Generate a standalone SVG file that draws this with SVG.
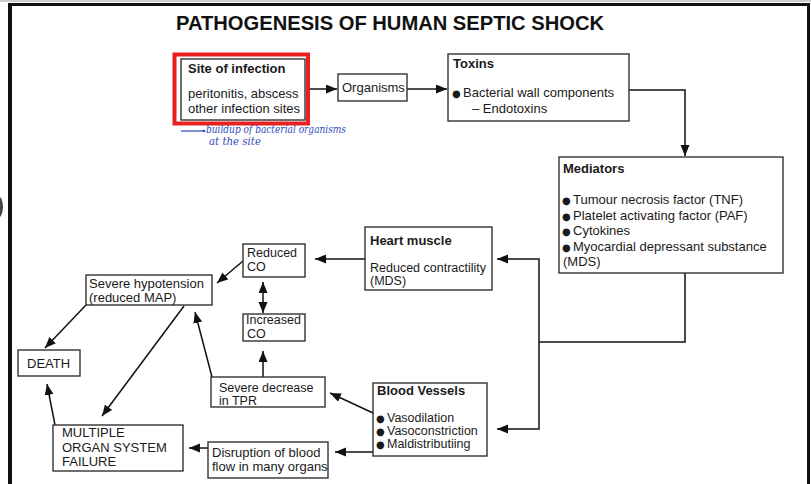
<svg xmlns="http://www.w3.org/2000/svg" width="811" height="484" viewBox="0 0 811 484">
<style>
  text { font-family: "Liberation Sans", Arial, sans-serif; font-size: 13px; fill: #1a1a1a; }
  .b { font-weight: bold; }
  .t { font-weight: bold; font-size: 20px; fill: #111; }
  .s { font-size: 12.5px; }
  .dot { font-family: "DejaVu Sans", sans-serif; font-size: 10px; }
  .box { fill: #fff; stroke: #333; stroke-width: 1.4; }
  .con { fill: none; stroke: #111; stroke-width: 1.5; }
  .hand { font-family: "DejaVu Serif", serif; font-style: italic; font-size: 10.5px; fill: #2f49bb; }
</style>
<defs>
  <marker id="ah" markerUnits="userSpaceOnUse" markerWidth="12" markerHeight="10" refX="11" refY="4.5" orient="auto-start-reverse">
    <path d="M0,0 L11,4.5 L0,9 z" fill="#111"/>
  </marker>
</defs>
<rect width="811" height="484" fill="#fff"/>
<g id="frame">
  <line x1="0" y1="1" x2="811" y2="1" stroke="#bbb" stroke-width="1.5"/>
  <line x1="8" y1="4.5" x2="810" y2="4.5" stroke="#111" stroke-width="3"/>
  <line x1="10" y1="3" x2="10" y2="484" stroke="#111" stroke-width="4"/>
  <line x1="808.5" y1="3" x2="808.5" y2="484" stroke="#111" stroke-width="3"/>
  <ellipse cx="-2" cy="207" rx="5" ry="11" fill="#444"/>
</g>
<text id="title" class="t" x="390" y="30" text-anchor="middle" textLength="428" lengthAdjust="spacingAndGlyphs">PATHOGENESIS OF HUMAN SEPTIC SHOCK</text>

<g id="connectors">
  <line class="con" x1="305" y1="89" x2="337" y2="89" marker-end="url(#ah)"/>
  <line class="con" x1="407" y1="89" x2="447" y2="89" marker-end="url(#ah)"/>
  <path class="con" d="M629,90 H685 V156" marker-end="url(#ah)"/>
  <path class="con" d="M685,273 V342 H539"/>
  <path class="con" d="M539,342 V259 H497" marker-end="url(#ah)"/>
  <path class="con" d="M539,342 V429 H497" marker-end="url(#ah)"/>
  <line class="con" x1="365" y1="259" x2="315" y2="259" marker-end="url(#ah)"/>
  <line class="con" x1="243" y1="261" x2="217" y2="283" marker-end="url(#ah)"/>
  <line class="con" x1="263" y1="282" x2="263" y2="313" marker-start="url(#ah)" marker-end="url(#ah)"/>
  <line class="con" x1="263" y1="377" x2="263" y2="351" marker-end="url(#ah)"/>
  <line class="con" x1="212" y1="377" x2="195" y2="312" marker-end="url(#ah)"/>
  <line class="con" x1="86" y1="305" x2="45" y2="348" marker-end="url(#ah)"/>
  <line class="con" x1="184" y1="306" x2="102" y2="416" marker-end="url(#ah)"/>
  <line class="con" x1="55" y1="425" x2="47" y2="384" marker-end="url(#ah)"/>
  <line class="con" x1="208" y1="448" x2="189" y2="448" marker-end="url(#ah)"/>
  <line class="con" x1="373" y1="413" x2="330" y2="393" marker-end="url(#ah)"/>
  <line class="con" x1="373" y1="452" x2="335" y2="452" marker-end="url(#ah)"/>
</g>

<g id="site">
  <rect x="174.5" y="54.5" width="133.5" height="69" fill="#fff" stroke="#e8201f" stroke-width="4"/>
  <rect class="box" x="181" y="59" width="124" height="61" stroke="#555"/>
  <text class="b" x="188" y="73">Site of infection</text>
  <text x="188" y="98">peritonitis, abscess</text>
  <text x="188" y="113">other infection sites</text>
</g>
<g id="annotation">
  <line x1="181" y1="131" x2="203" y2="131" stroke="#2f49bb" stroke-width="1.2"/>
  <circle cx="204" cy="131" r="1.3" fill="#2f49bb"/>
  <text class="hand" x="206" y="133" textLength="140" lengthAdjust="spacingAndGlyphs">buildup of bacterial organisms</text>
  <text class="hand" x="209" y="145" textLength="52" lengthAdjust="spacingAndGlyphs">at the site</text>
</g>
<g id="organisms">
  <rect class="box" x="338" y="74" width="69" height="27"/>
  <text x="342" y="92">Organisms</text>
</g>
<g id="toxins">
  <rect class="box" x="448" y="54" width="181" height="67"/>
  <text class="b" x="453" y="68">Toxins</text>
  <text x="452" y="97"><tspan class="dot">●</tspan><tspan x="463">Bacterial wall components</tspan></text>
  <text x="472" y="113">– Endotoxins</text>
</g>
<g id="mediators">
  <rect class="box" x="559" y="157" width="224" height="116"/>
  <text class="b" x="563" y="173">Mediators</text>
  <text x="562" y="204"><tspan class="dot">●</tspan><tspan x="573">Tumour necrosis factor (TNF)</tspan></text>
  <text x="562" y="220"><tspan class="dot">●</tspan><tspan x="573">Platelet activating factor (PAF)</tspan></text>
  <text x="562" y="235"><tspan class="dot">●</tspan><tspan x="573">Cytokines</tspan></text>
  <text x="562" y="251"><tspan class="dot">●</tspan><tspan x="573">Myocardial depressant substance</tspan></text>
  <text x="563" y="266">(MDS)</text>
</g>
<g id="heart">
  <rect class="box" x="365" y="227" width="127" height="63"/>
  <text class="b" x="370" y="245">Heart muscle</text>
  <text class="s" x="370" y="271.5">Reduced contractility</text>
  <text class="s" x="370" y="285">(MDS)</text>
</g>
<g id="reducedCO">
  <rect class="box" x="243" y="244" width="62" height="33"/>
  <text class="s" x="247" y="257">Reduced</text>
  <text class="s" x="247" y="270.5">CO</text>
</g>
<g id="increasedCO">
  <rect class="box" x="243" y="314" width="62" height="27"/>
  <text class="s" x="246" y="324">Increased</text>
  <text class="s" x="247" y="337.5">CO</text>
</g>
<g id="hypotension">
  <rect class="box" x="86" y="275" width="126" height="30"/>
  <text x="89" y="288">Severe hypotension</text>
  <text x="89" y="302">(reduced MAP)</text>
</g>
<g id="tpr">
  <rect class="box" x="211" y="377" width="114" height="30"/>
  <text class="s" x="219" y="391.5">Severe decrease</text>
  <text class="s" x="219" y="405">in TPR</text>
</g>
<g id="death">
  <rect class="box" x="18" y="350" width="62" height="26"/>
  <text x="27" y="368">DEATH</text>
</g>
<g id="multiple">
  <rect class="box" x="53" y="425" width="130" height="46"/>
  <text x="62" y="437">MULTIPLE</text>
  <text x="62" y="452">ORGAN SYSTEM</text>
  <text x="62" y="466">FAILURE</text>
</g>
<g id="disruption">
  <rect class="box" x="208" y="442" width="120" height="36"/>
  <text x="212" y="457">Disruption of blood</text>
  <text x="212" y="471">flow in many organs</text>
</g>
<g id="bloodvessels">
  <rect class="box" x="373" y="383" width="114" height="73"/>
  <text class="b" x="377" y="395">Blood Vessels</text>
  <text class="s" x="376" y="422"><tspan class="dot">●</tspan><tspan x="387">Vasodilation</tspan></text>
  <text class="s" x="376" y="435"><tspan class="dot">●</tspan><tspan x="387">Vasoconstriction</tspan></text>
  <text class="s" x="376" y="448"><tspan class="dot">●</tspan><tspan x="387">Maldistributiing</tspan></text>
</g>
</svg>
